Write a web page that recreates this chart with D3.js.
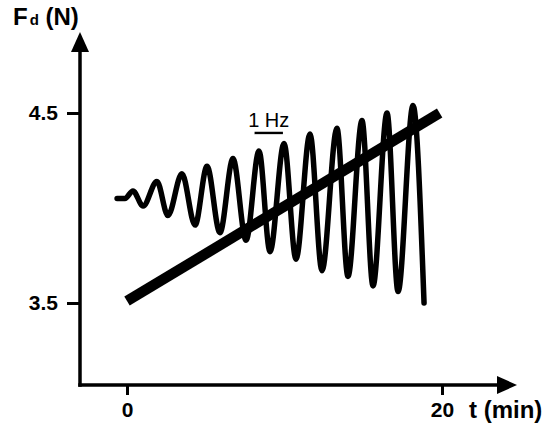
<!DOCTYPE html>
<html><head><meta charset="utf-8">
<script src="https://cdn.jsdelivr.net/npm/d3@7"></script>
<style>body{margin:0;background:#fff} svg{display:block} text{font-family:"Liberation Sans",Arial,sans-serif}</style>
</head><body><svg id="c" width="546" height="427"></svg>
<script>
// ---- data ----
const xTicks = [0, 20];
const yTicks = [3.5, 4.5];
const xTickLabels = ["0", "20"];
const yTickLabels = ["3.5", "4.5"];
// oscillating force trace: successive extremes (t in min, F in N)
const traceT = [-0.63, -0.13, 0.38, 1.02, 1.90, 2.60, 3.49, 4.32, 5.08, 5.90, 6.73, 7.56, 8.38, 9.08, 9.97, 10.73, 11.62, 12.38, 13.33, 14.03, 14.92, 15.62, 16.51, 17.21, 18.16, 18.86];
const traceF = [4.05, 4.05, 4.09, 4.01, 4.14, 3.96, 4.18, 3.91, 4.22, 3.87, 4.26, 3.83, 4.30, 3.77, 4.34, 3.73, 4.39, 3.67, 4.42, 3.64, 4.46, 3.59, 4.50, 3.56, 4.54, 3.50];
// linear ramp
const rampT = [0, 19.85];
const rampF = [3.51, 4.50];
// 1 Hz scale bar
const scaleBarT = [8.1, 9.9];
const scaleBarF = 4.395;
const scaleBarLabel = "1 Hz";
const xTitle = "t (min)";
const yTitleMain = "F", yTitleSub = "d", yTitleUnit = " (N)";

// ---- layout ----
const svg = d3.select("#c");
const x = d3.scaleLinear().domain([0, 20]).range([127, 442]);
const y = d3.scaleLinear().domain([3.5, 4.5]).range([303, 113]);
const ox = 80, oy = 385, xTip = 517, yTip = 32;
const axisW = 3.5;

// axis lines with arrowheads
svg.append("line").attr("x1", ox - axisW / 2).attr("y1", oy).attr("x2", xTip - 16).attr("y2", oy)
  .attr("stroke", "#000").attr("stroke-width", axisW);
svg.append("line").attr("x1", ox).attr("y1", oy + axisW / 2).attr("x2", ox).attr("y2", yTip + 16)
  .attr("stroke", "#000").attr("stroke-width", axisW);
svg.append("path").attr("d", `M${xTip},${oy}L${xTip - 20},${oy - 9}L${xTip - 20},${oy + 9}Z`).attr("fill", "#000");
svg.append("path").attr("d", `M${ox},${yTip}L${ox - 9},${yTip + 20}L${ox + 9},${yTip + 20}Z`).attr("fill", "#000");

// tick axes
const gx = svg.append("g").attr("transform", `translate(0,${oy})`)
  .call(d3.axisBottom(x).tickValues(xTicks).tickFormat((d, i) => xTickLabels[i]).tickSize(10).tickSizeOuter(0).tickPadding(7));
const gy = svg.append("g").attr("transform", `translate(${ox},0)`)
  .call(d3.axisLeft(y).tickValues(yTicks).tickFormat((d, i) => yTickLabels[i]).tickSize(13).tickSizeOuter(0).tickPadding(9));
[gx, gy].forEach(g => {
  g.select(".domain").remove();
  g.selectAll(".tick line").attr("stroke", "#000").attr("stroke-width", 3);
  g.selectAll(".tick text").attr("fill", "#000").attr("font-size", 21).attr("font-weight", "bold")
    .attr("font-family", "'Liberation Sans', Arial, sans-serif");
});

// axis titles
svg.append("text").attr("x", 469).attr("y", 418).attr("font-size", 24).attr("font-weight", "bold").text(xTitle);
const yt = svg.append("text").attr("x", 13).attr("y", 25).attr("font-size", 24).attr("font-weight", "bold");
yt.append("tspan").text(yTitleMain);
yt.append("tspan").attr("font-size", 15).attr("dx", 2).text(yTitleSub);
yt.append("tspan").text(yTitleUnit);

// ramp
const rampData = rampT.map((t, i) => ({ t, f: rampF[i] }));
svg.append("path").datum(rampData)
  .attr("d", d3.line().x(d => x(d.t)).y(d => y(d.f)))
  .attr("fill", "none").attr("stroke", "#000").attr("stroke-width", 10.5).attr("stroke-linecap", "butt");

// trace
const traceData = traceT.map((t, i) => ({ t, f: traceF[i] }));
svg.append("path").datum(traceData)
  .attr("d", d3.line().x(d => x(d.t)).y(d => y(d.f)).curve(d3.curveMonotoneX))
  .attr("fill", "none").attr("stroke", "#000").attr("stroke-width", 5.5)
  .attr("stroke-linejoin", "round").attr("stroke-linecap", "round");

// 1 Hz scale bar
svg.append("line").attr("x1", x(scaleBarT[0])).attr("x2", x(scaleBarT[1]))
  .attr("y1", y(scaleBarF)).attr("y2", y(scaleBarF)).attr("stroke", "#000").attr("stroke-width", 2.4);
svg.append("text").attr("x", (x(scaleBarT[0]) + x(scaleBarT[1])) / 2).attr("y", y(scaleBarF) - 6)
  .attr("text-anchor", "middle").attr("font-size", 20).text(scaleBarLabel);
</script></body></html>
